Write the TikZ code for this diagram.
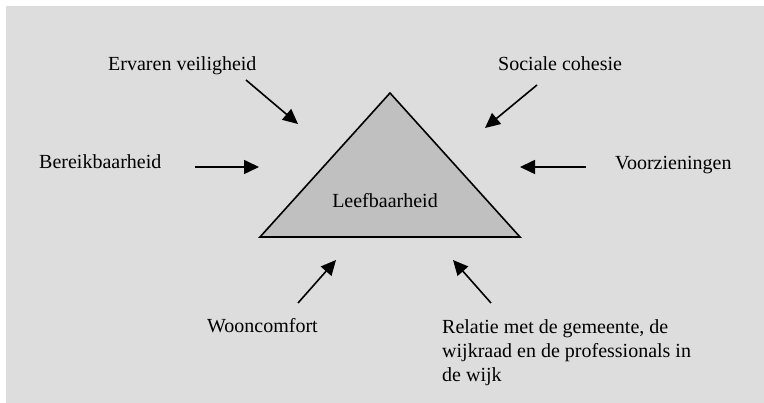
\documentclass[tikz,border=0pt]{standalone}
\usepackage{fontspec}
\setmainfont{Liberation Serif}
\usepackage{tikz}
\usetikzlibrary{arrows.meta}
\definecolor{leefGray}{RGB}{221,221,221}
\definecolor{leefFill}{RGB}{192,192,192}
\tikzset{
	factor/.style={font=\fontsize{20}{24}\selectfont, inner sep=0pt, anchor=base west},
	influence/.style={line width=1.6pt, -{Triangle[length=15pt, width=14pt]}},
}

\begin{document}
\begin{tikzpicture}[x=1pt, y=-1pt]

	\useasboundingbox (0,0) rectangle (764,403);
	\fill[leefGray] (6,6) rectangle (764,403);

	\coordinate (top) at (390,93);
	\coordinate (left) at (260,237);
	\coordinate (right) at (520,237);
	\filldraw[fill=leefFill, draw=black, line width=1.6pt] (top) -- (left) -- (right) -- cycle;
	\node[factor, anchor=base] (leef) at (385,208) {Leefbaarheid};

	\node[factor] (veilig) at (108,71) {Ervaren veiligheid};
	\node[factor] (cohesie) at (498,71) {Sociale cohesie};
	\node[factor] (bereik) at (39,169) {Bereikbaarheid};
	\node[factor] (voorz) at (615,170) {Voorzieningen};
	\node[factor] (woon) at (207,333) {Wooncomfort};
	\node[factor, anchor=north west, align=left] (relatie) at (442,319) {Relatie met de gemeente, de\\wijkraad en de professionals in\\de wijk};

	\coordinate (veilig-s) at (246,80);   \coordinate (veilig-e) at (298,124);
	\coordinate (cohesie-s) at (537,85);  \coordinate (cohesie-e) at (485,128);
	\coordinate (bereik-s) at (195,167);  \coordinate (bereik-e) at (259,167);
	\coordinate (voorz-s) at (586,167);   \coordinate (voorz-e) at (520,167);
	\coordinate (woon-s) at (298,303);    \coordinate (woon-e) at (336,260);
	\coordinate (relatie-s) at (491,303); \coordinate (relatie-e) at (453,260);

	\draw[influence] (veilig-s) -- (veilig-e);
	\draw[influence] (cohesie-s) -- (cohesie-e);
	\draw[influence] (bereik-s) -- (bereik-e);
	\draw[influence] (voorz-s) -- (voorz-e);
	\draw[influence] (woon-s) -- (woon-e);
	\draw[influence] (relatie-s) -- (relatie-e);

\end{tikzpicture}
\end{document}
